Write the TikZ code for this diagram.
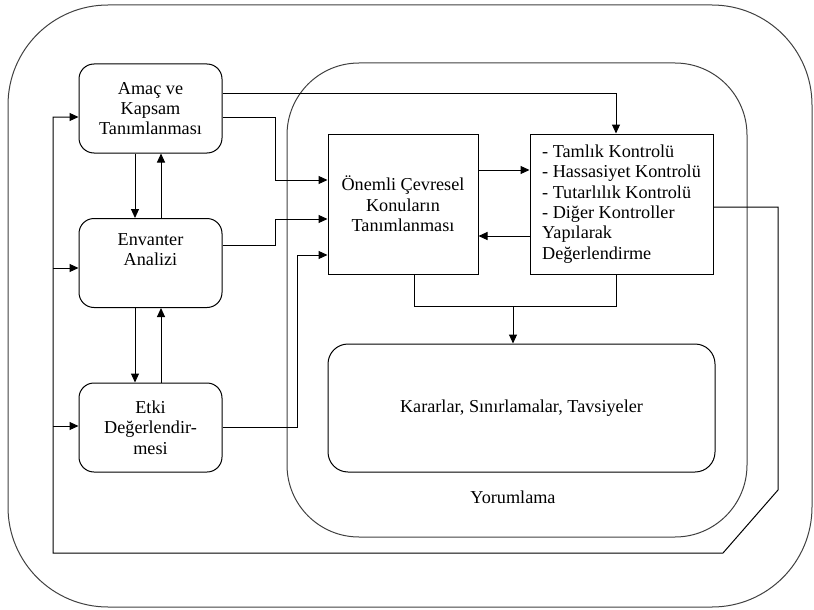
\documentclass[tikz,border=0pt]{standalone}
\usepackage{fontspec}
\setmainfont{Liberation Serif}
\usetikzlibrary{arrows.meta}
\begin{document}
\begin{tikzpicture}[x=1pt,y=-1pt,
    every node/.style={font=\fontsize{18.2}{20.4}\selectfont},
    rbox/.style={draw,line width=1pt,rounded corners=15pt,align=center,
        minimum width=143pt,minimum height=89pt,inner sep=0pt},
    sbox/.style={draw,line width=1pt,align=center,inner sep=0pt,
        minimum width=150pt,minimum height=140pt},
    frame/.style={draw=black!75,line width=1pt},
    arr/.style={line width=1pt,-{Triangle[length=9pt,width=8pt]}},
    con/.style={line width=1pt}]
        \useasboundingbox (0,0) rectangle (814,610);
        % outer frames
        \draw[frame,rounded corners=100pt] (8,5) rectangle (812,607);
        \draw[frame,rounded corners=72pt] (287,63) rectangle (747,537);
        % left column
        \node[rbox] (amac) at (150.5,108.5) {Amaç ve\\Kapsam\\Tanımlanması};
        \node[rbox] (env) at (150.5,263) {Envanter\\Analizi\\\strut};
        \node[rbox] (etki) at (150.5,427.5) {Etki\\Değerlendir-\\mesi};
        % interpretation
        \node[sbox] (onemli) at (403,204) {Önemli Çevresel\\Konuların\\Tanımlanması};
        \node[sbox,align=left,minimum width=183pt] (kontrol) at (621.5,204)
            {- Tamlık Kontrolü\\- Hassasiyet Kontrolü\\- Tutarlılık Kontrolü\\- Diğer Kontroller\\Yapılarak\\Değerlendirme};
        \node[rbox,rounded corners=20pt,minimum width=387pt,minimum height=128pt] (karar) at (521.5,408)
            {Kararlar, Sınırlamalar, Tavsiyeler};
        \node (yorum) at (513,497) {Yorumlama};
        % up and down between the phases
        \foreach \a / \b in {amac/env,env/etki}
        {
            \draw[arr] (\a.south -| 135,0) -- (\b.north -| 135,0);
            \draw[arr] (\b.north -| 161,0) -- (\a.south -| 161,0);
        }
        % into the interpretation
        \draw[arr] (amac.east |- 0,93) -| ([xshift=-5.5pt]kontrol.north);
        \draw[arr] (amac.east |- 0,117) -- (275,117) -- (275,180) -- (onemli.west |- 0,180);
        \draw[arr] (env.east |- 0,245) -- (275,245) -- (275,219) -- (onemli.west |- 0,219);
        \draw[arr] (etki.east) -| (297,255) -- (onemli.west |- 0,255);
        \draw[arr] (onemli.east |- 0,170) -- (kontrol.west |- 0,170);
        \draw[arr] (kontrol.west |- 0,236) -- (onemli.east |- 0,236);
        \coordinate (birlesim) at (513,306);
        \draw[con] (onemli.south -| 414,0) -- (414,306) -- (616,306) -- (kontrol.south -| 616,0);
        \draw[arr] (birlesim) -- (karar.north -| birlesim);
        % feedback
        \coordinate (geri) at (53,553);
        \draw[arr] (kontrol.east |- 0,207) -- (778,207) -- (778,490) -- (723,553) -- (geri) |- (amac.west |- 0,117);
        \draw[arr] (geri |- 0,268) -- (env.west |- 0,268);
        \draw[arr] (geri |- 0,426) -- (etki.west |- 0,426);
    \end{tikzpicture}
\end{document}
